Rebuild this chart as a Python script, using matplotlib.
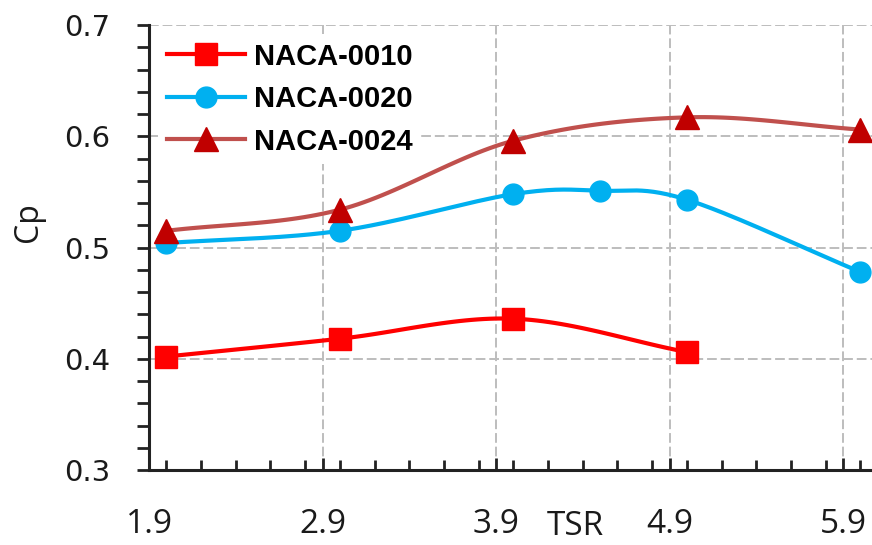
import numpy as np
import matplotlib
matplotlib.use("Agg")
import matplotlib.pyplot as plt
from matplotlib.ticker import MultipleLocator


# values
x_0010 = [2.0, 3.0, 4.0, 5.0]
cp_0010 = [0.402, 0.418, 0.436, 0.406]

x_0020 = [2.0, 3.0, 4.0, 4.5, 5.0, 6.0]
cp_0020 = [0.504, 0.515, 0.548, 0.551, 0.543, 0.478]

x_0024 = [2.0, 3.0, 4.0, 5.0, 6.0]
cp_0024 = [0.515, 0.534, 0.596, 0.617, 0.606]

xticks = [1.9, 2.9, 3.9, 4.9, 5.9]
yticks = [0.3, 0.4, 0.5, 0.6, 0.7]


def smooth(xs, ys, n=30):
    # excel-like smoothed line (catmull-rom through the points)
    xs = np.asarray(xs, float)
    ys = np.asarray(ys, float)
    px = np.concatenate([[2 * xs[0] - xs[1]], xs, [2 * xs[-1] - xs[-2]]])
    py = np.concatenate([[2 * ys[0] - ys[1]], ys, [2 * ys[-1] - ys[-2]]])
    out_x, out_y = [], []
    t = np.linspace(0, 1, n)
    for i in range(1, len(px) - 2):
        for p, out in ((px, out_x), (py, out_y)):
            p0, p1, p2, p3 = p[i - 1], p[i], p[i + 1], p[i + 2]
            v = 0.5 * ((2 * p1) + (-p0 + p2) * t
                       + (2 * p0 - 5 * p1 + 4 * p2 - p3) * t ** 2
                       + (-p0 + 3 * p1 - 3 * p2 + p3) * t ** 3)
            out.extend(v)
    return np.array(out_x), np.array(out_y)


fig = plt.figure(figsize=(8.72, 5.45), dpi=100)
ax = fig.add_axes([0.1709, 0.1376, 0.8291, 0.8165])

series = [
    (x_0010, cp_0010, "NACA-0010", "#ff0000", "#ff0000", "s", 16),
    (x_0020, cp_0020, "NACA-0020", "#00b0f0", "#00b0f0", "o", 15),
    (x_0024, cp_0024, "NACA-0024", "#c0504d", "#c00000", "^", 17),
]

for xs, ys, lab, lc, mc, mk, ms in series:
    sx, sy = smooth(xs, ys)
    ax.plot(sx, sy, color=lc, lw=3, zorder=3)
    ax.plot(xs, ys, linestyle="none", marker=mk, ms=ms, color=mc,
            zorder=4, clip_on=False)
    # legend proxy
    ax.plot([], [], color=lc, lw=3, marker=mk, ms=ms, mfc=mc, mec=mc, label=lab)

ax.set_xlim(1.9, 6.067)
ax.set_ylim(0.3, 0.7)
ax.set_xticks(xticks)
ax.set_yticks(yticks)
ax.xaxis.set_minor_locator(MultipleLocator(0.2))
ax.yaxis.set_minor_locator(MultipleLocator(0.02))
ax.set_xticklabels([str(v) for v in xticks], fontfamily="Open Sans", fontsize=24,
                   color="#1a1a1a")
ax.set_yticklabels([str(v) for v in yticks], fontfamily="DejaVu Sans", fontsize=21,
                   color="#1a1a1a")

ax.tick_params(axis="x", which="major", direction="in", length=9, width=2,
               pad=27, color="#222222")
ax.tick_params(axis="x", which="minor", direction="in", length=7, width=2,
               color="#222222")
ax.tick_params(axis="y", which="both", direction="out", length=9, width=2,
               pad=19, color="#222222")

for s in ["top", "right"]:
    ax.spines[s].set_visible(False)
for s in ["left", "bottom"]:
    ax.spines[s].set_linewidth(2.2)
    ax.spines[s].set_color("#222222")

ax.grid(True, which="major", color="#bdbdbd", linestyle=(0, (5, 2)), lw=1.4)
ax.set_axisbelow(True)

ax.text(-0.167, 0.557, "Cp", transform=ax.transAxes, rotation=90,
        fontfamily="Open Sans", fontsize=23, color="#1a1a1a",
        ha="center", va="center")
ax.text(0.59, -0.128, "TSR", transform=ax.transAxes,
        fontfamily="Open Sans", fontsize=24, color="#1a1a1a",
        ha="center", va="center")

leg = ax.legend(loc="upper left", bbox_to_anchor=(0.0, 1.0), frameon=True,
                facecolor="white", edgecolor="none", framealpha=1,
                prop={"family": "Liberation Sans", "weight": "bold", "size": 21},
                handlelength=2.7, handletextpad=0.3, labelspacing=0.5,
                borderaxespad=0.3, borderpad=0.3)

fig.savefig("out.png", dpi=100)
